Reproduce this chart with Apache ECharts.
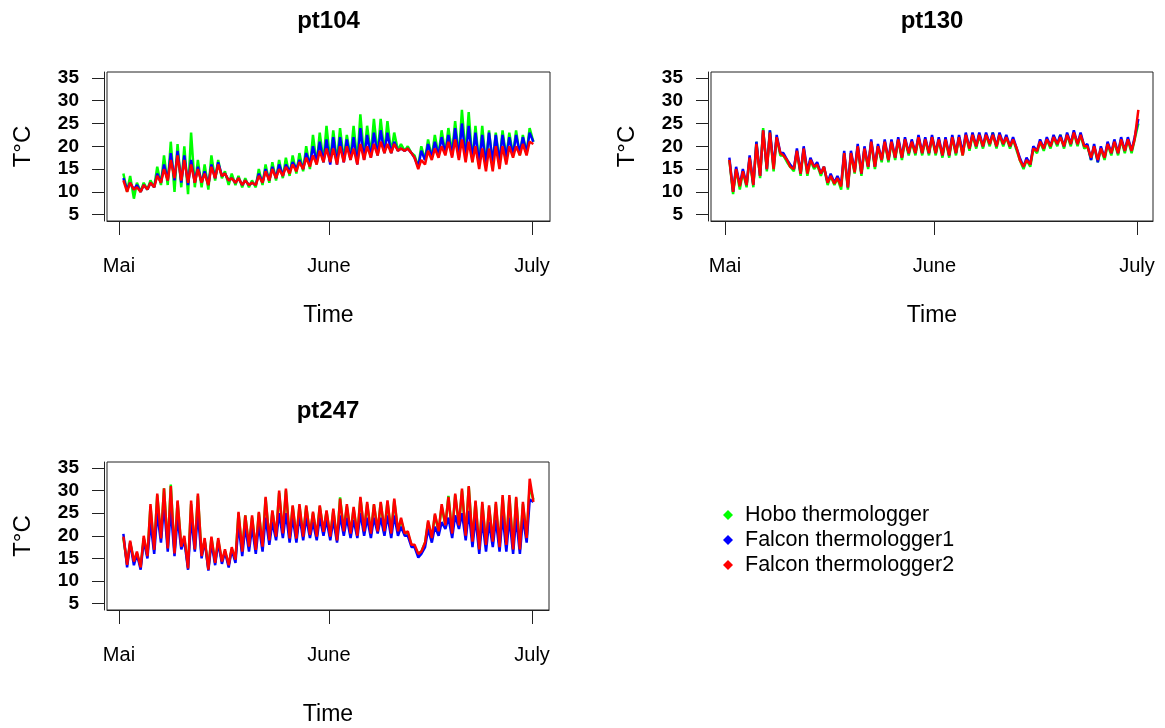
<!DOCTYPE html>
<html>
<head>
<meta charset="utf-8">
<title>pt104 / pt130 / pt247</title>
<script src="https://cdn.jsdelivr.net/npm/echarts@6/dist/echarts.min.js"></script>
<style>
  html, body { margin: 0; padding: 0; background: #fff; }
  #main { width: 1165px; height: 728px; }
</style>
</head>
<body>
<div id="main"></div>
<script>
// axis ticks (days since 1 May)
var monthTicks = [0, 31, 61];
var monthLabels = ['Mai', 'June', 'July'];
var tempTicks = [5, 10, 15, 20, 25, 30, 35];

var loggerNames = ['Hobo thermologger', 'Falcon thermologger1', 'Falcon thermologger2'];
var loggerColors = ['#00ff00', '#0000ff', '#ff0000'];

// daily afternoon peak (hi) and following night low (lo), one value per day from 1 May
// pt104
var pt104_hobo_hi = [14,13.5,12,12,12.5,15.5,18,21,20.5,20, 23,17,16,18,17,14.5,14,13.5,13,12.5, 15,16,16.5,17,17.5,18,18.5,20,22.5,23, 24.5,23.5,24,22.5,24.5,27,24.5,26,26,25.5, 23,20.5,20,18,20,21.5,22.5,23.5,24,25.5, 28,27.5,24.5,24.5,23.5,23,23.5,23,23.5,22.5,24];
var pt104_hobo_lo = [10,8.5,10,10.5,11,11.5,11.5,10,11,9.5, 11,11,10.5,12.5,13,11.5,11.5,11,11,11, 11.5,12,12.5,13,13.5,14,14.5,15,16,16.5, 16.5,16.5,17,17.5,16.5,17.5,18,18,18.5,18.5, 19,19,18.5,15.5,17,17.5,18,18.5,18.5,17.5, 18,16.5,16,16,16,16.5,17.5,18,18,18.5,21];
var pt104_f1_hi = [13,12,11.5,11.5,12,14,16,18.5,19,18, 17,15.5,14.5,16,16.5,14,13,13,12.5,12, 14,15,15.5,16,16,16.5,17,18.5,20,21, 21.5,22,22,21.5,22,24,22.5,23,23.5,23, 21,19.5,19.5,17.5,19,20.5,21,22,22.5,24, 25,24.5,23,22.5,23,22.5,22.5,22,22.5,22,23];
var pt104_f1_lo = [10.5,10.5,10,10.5,11,12,12.5,12.5,12,11.5, 12,12,11.5,13,13.5,12.5,12,11.5,11.5,11.5, 12,12.5,13,13.5,14.5,15,15,16,16.5,16.5, 16,16,16.5,17,16,17,17.5,18,18.5,18.5, 19,19,18.5,15.5,17,17.5,18,18.5,18,17.5, 17.5,17,16,16,16.5,16.5,17.5,18,18.5,18.5,21];
var pt104_f2_hi = [12.5,12,11,11.5,12,13.5,15,17,18,17, 16,15,14,15.5,16,14,13,13,12.5,12, 13.5,14.5,15,15,15.5,16,16.5,17.5,18,19, 19.5,19.5,20,20,19.5,20.5,20,20.5,21,20.5, 20.5,19.5,19.5,17.5,17,19,19.5,20,21,21.5, 21.5,21,20,19.5,19.5,20,20,20,20,20.5,21];
var pt104_f2_lo = [10,10.5,10,10.5,11,12,12.5,13,12.5,12, 12,12,11.5,13,13.5,12.5,12,11.5,11.5,11.5, 12,12.5,13,13.5,14,14.5,15,15.5,16,16.5, 16.5,16,16.5,17,16,17,17.5,18,18.5,18.5, 19,19,18.5,15,16,17,17.5,18,17.5,17, 16.5,16.5,15,14.5,14.5,15,16,17.5,18,18,20.5];

// pt130
var pt130_hobo_hi = [17,15,14.5,17.5,21,24,23.5,22,18,15.5, 19,19.5,17,16,15.5,13.5,13,18.5,18.5,20, 19.5,21,20,21,21,21.5,21.5,21,22,21.5, 22,21.5,21.5,22,22,22.5,22.5,22.5,22.5,23, 22.5,22,21.5,17,17,19.5,21,21.5,22,22.5, 22.5,23,22.5,20,20,19.5,20.5,21,21.5,21.5,21.5];
var pt130_hobo_lo = [9.5,10.5,11,11,13,14.5,14.5,18,16.5,14.5, 13.5,13.5,15,13.5,11.5,11.5,10.5,10.5,14,13.5, 15,15,16.5,16.5,17,17,18,18,18,18, 18,17.5,17.5,18,18,19,19.5,19.5,20,19.5, 20,19.5,19,15,15.5,18.5,19,19.5,20,19.5, 20,20,19.5,17,16.5,17,18,18,18.5,18.5,25];
var pt130_f1_hi = [17.5,15.5,15,18,21,23.5,23.5,22.5,18.5,16, 19.5,20,17.5,16.5,15.5,14,13.5,19,19,20.5, 20,21.5,20.5,21.5,21.5,22,22,21.5,22.5,22, 22.5,22,22,22.5,22.5,23,23,23,23,23, 23,22.5,22,17.5,17.5,20,21.5,22,22.5,22.5, 23,23.5,23,20.5,20.5,20,21,21.5,22,22,22];
var pt130_f1_lo = [10,11.5,11.5,11.5,13.5,15,15.5,18.5,17,15, 14,14.5,15.5,14,12,12,11.5,11,14.5,14, 15.5,15.5,17,17,17.5,17.5,18.5,18.5,18.5,18.5, 18.5,18,18,18.5,18.5,19.5,20,20,20.5,20, 20.5,20,19.5,15.5,16,19,19.5,20,20.5,20, 20.5,20.5,20,17,16.5,17.5,18.5,18.5,19,19,26];
var pt130_f2_hi = [17,15,14.5,17.5,20.5,23.5,23,22,18,15.5, 19,19.5,17,16,15.5,13.5,13,18.5,18.5,20, 19.5,21,20,21,21,21.5,21.5,21,22,21.5, 22,21.5,21.5,22,22,22.5,22.5,22.5,22.5,22.5, 22.5,22,21.5,17,17,19.5,21,21.5,22,22, 22.5,23,22.5,20,20,19.5,20.5,21,21.5,21.5,21.5];
var pt130_f2_lo = [10,11.2,11.5,11.5,13.5,15,15,18.5,17,15, 14,14,15.5,14,12,11.8,11.2,11,14.3,14, 15.5,15.5,17,17,17.5,17.5,18.5,18.5,18.5,18.5, 18.5,18,18,18.5,18,19.5,20,20,20.5,20, 20.5,20,19.5,15.5,16,19,19.5,20,20.5,20, 20.5,20.5,20,17.5,17,17.5,18.5,18.5,19,19,28];

// pt247
var pt247_hobo_hi = [19.5,18.5,16,19.5,26.5,29,30.5,31.3,27.5,19.5, 27,28.8,19,19.5,19,16.5,17,25,24.5,24, 25,28.3,25.3,29.5,30,26.5,26.5,26.5,25,26.5, 25.3,25.5,28.5,26.5,26,28.3,27,26.8,27.3,27.5, 27.8,23.5,20.5,17.5,16.5,23,24.5,26.5,28.8,29, 30,30.8,27.5,27,26.3,27,28.5,28.5,28.3,27,31];
var pt247_hobo_lo = [13.8,14.5,13.2,15.5,16.8,19.5,17.3,16.2,17.6,13, 17,15.5,12.7,14,14.3,13.6,14.7,16.5,17.5,17, 17.6,19,19.8,20.5,19.4,19.4,19.8,20.2,19.8,20.8, 19.8,19,21,20.5,20,21,20.5,21,21,20.5, 21,20.5,18,16,18.5,19.5,21,22.3,20.5,22.3, 20,18.7,17,18,18.7,17.5,18,17,17,19.5,28];
var pt247_f1_hi = [20.4,18.5,16,19,23,25,27,26,24,19, 24,25,19,18.5,18.5,16.5,17,22.5,22,22, 22.5,24,23,25,25,24,24.5,24,23,24, 23.5,23.5,24.5,24,23.5,25,24,24,24,24.5, 24.5,22,20,17.5,16,21.5,22,23,24,24.5, 25,25.5,24,23.5,23,23.5,24.5,24,24,24,28];
var pt247_f1_lo = [13,13.5,12.5,15,16,18.5,16.5,15.5,17,12.5, 16.5,15,12.3,13.5,13.8,13,14,15.5,16.5,16, 16.5,18,19,19.5,18.5,18.5,19,19.5,19,20, 19,18.5,20,19.5,19.5,20,19.5,20.5,20,19.5, 20,20,17.5,15.2,17.5,18.5,20,21.5,19.5,21.5, 19,17.5,16,16.5,17.5,16.5,16.5,16,16,18.5,27.5];
var pt247_f2_hi = [19.8,18.9,16.5,20,27,29.3,30.5,31,27.8,20, 27.8,29.3,19.5,19.8,19.5,17,17.5,25.3,24.5,24.5, 25.3,28.6,25.6,30,30.4,26.7,27,26.7,25.3,26.7, 25.6,26,28.2,27,26.4,28.6,27.5,27,27.5,27.8, 28.2,24,21,18,16.5,23.4,24.9,27,28.6,29.3, 30.4,31,27.8,27.5,26.7,27.5,29,29,28.6,27.5,32.6];
var pt247_f2_lo = [13.6,14.3,13,15.5,16.9,19.4,17.2,16.1,17.6,12.8, 17,15.5,12.5,14,14.3,13.5,14.7,16.5,17.6,16.9, 17.6,19,19.8,20.5,19.4,19.4,19.8,20.2,19.8,20.9, 19.8,19,21,20.5,20,21,20.5,21,21,20.5, 21,20.5,18,16,18.5,19.5,21,22.3,20.5,22.3, 20,18.7,17,18,18.7,17.5,18,17,17,19.5,27.5];

var FONT = '"Liberation Sans", Arial, sans-serif';

// turn the daily peak / night pairs into [day, value] points
function toLine(hi, lo) {
  var pts = [];
  for (var d = 0; d < hi.length; d++) {
    pts.push([d + 0.65, hi[d]]);
    pts.push([d + 1.2, lo[d]]);
  }
  return pts;
}

var panels = [
  { title: 'pt104', left: 107, top: 72, width: 443, height: 149, xMin: -1.77, xMax: 63.66, nameGap: 83,
    data: [[pt104_hobo_hi, pt104_hobo_lo], [pt104_f1_hi, pt104_f1_lo], [pt104_f2_hi, pt104_f2_lo]] },
  { title: 'pt130', left: 711, top: 72, width: 442, height: 149, xMin: -2.07, xMax: 63.37, nameGap: 83,
    data: [[pt130_hobo_hi, pt130_hobo_lo], [pt130_f1_hi, pt130_f1_lo], [pt130_f2_hi, pt130_f2_lo]] },
  { title: 'pt247', left: 107, top: 462, width: 442, height: 148, xMin: -1.77, xMax: 63.5, nameGap: 93,
    data: [[pt247_hobo_hi, pt247_hobo_lo], [pt247_f1_hi, pt247_f1_lo], [pt247_f2_hi, pt247_f2_lo]] }
];

var grids = [], xAxes = [], yAxes = [], series = [], texts = [];

panels.forEach(function (p, i) {
  grids.push({
    left: p.left, top: p.top, width: p.width, height: p.height,
    show: true, borderColor: '#222', borderWidth: 1, backgroundColor: 'transparent'
  });
  xAxes.push({
    type: 'value', gridIndex: i, min: p.xMin, max: p.xMax,
    name: 'Time', nameLocation: 'middle', nameGap: p.nameGap,
    nameTextStyle: { fontSize: 23, color: '#000', fontFamily: FONT },
    axisLine: { show: true, onZero: false, lineStyle: { color: '#222' } },
    axisTick: { show: true, length: 14, customValues: monthTicks, lineStyle: { color: '#222' } },
    axisLabel: {
      customValues: monthTicks, margin: 35, fontSize: 20, color: '#000', fontFamily: FONT,
      formatter: function (v) { return monthLabels[monthTicks.indexOf(Math.round(v))]; }
    },
    splitLine: { show: false }
  });
  yAxes.push({
    type: 'value', gridIndex: i, min: 3.6, max: 36.3, offset: 3,
    name: 'T°C', nameLocation: 'middle', nameGap: 69,
    nameTextStyle: { fontSize: 24, color: '#000', fontFamily: FONT },
    axisLine: { show: true, onZero: false, lineStyle: { color: '#222' } },
    axisTick: { show: true, length: 12, customValues: tempTicks, lineStyle: { color: '#222' } },
    axisLabel: { customValues: tempTicks, margin: 25, fontSize: 19, fontWeight: 'bold', color: '#000', fontFamily: FONT },
    splitLine: { show: false }
  });
  p.data.forEach(function (pair, k) {
    series.push({
      name: loggerNames[k],
      type: 'line',
      xAxisIndex: i, yAxisIndex: i,
      data: toLine(pair[0], pair[1]),
      showSymbol: false,
      color: loggerColors[k],
      lineStyle: { width: 2.5, color: loggerColors[k] },
      z: 2 + k
    });
  });
  texts.push({
    type: 'text', x: p.left + p.width / 2, y: p.top - 51,
    style: { text: p.title, font: 'bold 24px ' + FONT, fill: '#000', align: 'center', verticalAlign: 'middle' }
  });
});

var myChart = echarts.init(document.getElementById('main'));
myChart.setOption({
  animation: false,
  backgroundColor: '#fff',
  textStyle: { fontFamily: FONT },
  grid: grids,
  xAxis: xAxes,
  yAxis: yAxes,
  series: series,
  graphic: texts,
  legend: {
    data: loggerNames,
    orient: 'vertical', left: 718, top: 499,
    icon: 'diamond', itemWidth: 10, itemHeight: 10, itemGap: 3,
    textStyle: { fontSize: 21.5, color: '#000', fontFamily: FONT, padding: [0, 0, 0, 7] }
  }
});
</script>
</body>
</html>
